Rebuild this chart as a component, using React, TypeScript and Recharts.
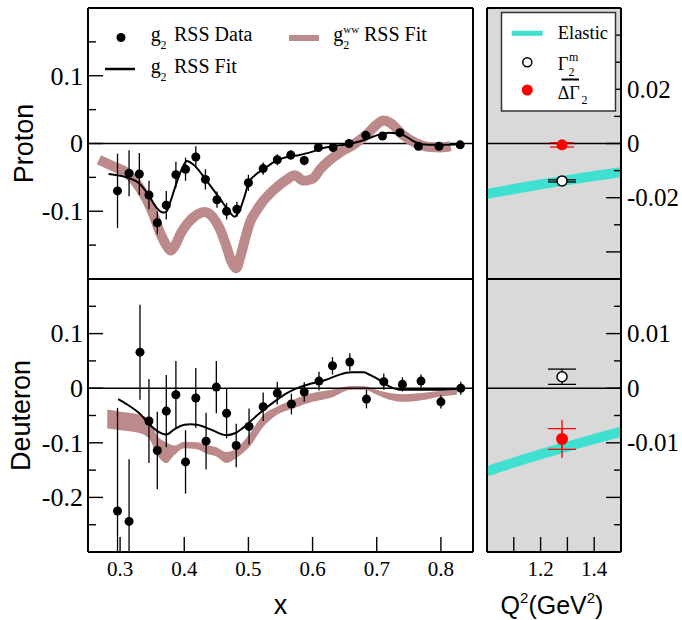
import React from 'react';
import {
  ComposedChart,
  XAxis,
  YAxis,
  Line,
  Area,
  Scatter,
  ErrorBar,
  ReferenceLine,
  Legend,
  CartesianGrid,
} from 'recharts';

const SERIF = '"Liberation Serif", "Times New Roman", Times, serif';
const SANS = '"Liberation Sans", Arial, Helvetica, sans-serif';
const BROWN = '#bc8a8a';
const TURQ = '#40e0d0';
const GRAY = '#d9d9d9';

const W = 682;
const H = 620;

// ---------- Proton g2 (left top) ----------
const protonX = [0.296, 0.314, 0.33, 0.345, 0.358, 0.372, 0.387, 0.402, 0.418, 0.433, 0.451, 0.466, 0.482, 0.5, 0.523, 0.545, 0.566, 0.587, 0.609, 0.632, 0.657, 0.683, 0.709, 0.736, 0.765, 0.797, 0.83];
const protonG2 = [-0.07, -0.044, -0.045, -0.076, -0.117, -0.091, -0.046, -0.038, -0.02, -0.053, -0.083, -0.1, -0.097, -0.058, -0.037, -0.024, -0.017, -0.025, -0.006, -0.006, 0.0, 0.012, 0.011, 0.016, -0.004, -0.004, -0.002];
const protonErr = [0.055, 0.034, 0.031, 0.021, 0.017, 0.021, 0.019, 0.017, 0.016, 0.015, 0.012, 0.012, 0.011, 0.012, 0.009, 0.008, 0.007, 0.007, 0.006, 0.006, 0.005, 0.005, 0.005, 0.005, 0.004, 0.004, 0.004];

const protonFitX = [0.282, 0.31, 0.331, 0.347, 0.357, 0.367, 0.372, 0.378, 0.388, 0.397, 0.404, 0.414, 0.435, 0.456, 0.47, 0.478, 0.487, 0.494, 0.5, 0.51, 0.525, 0.54, 0.56, 0.58, 0.6, 0.62, 0.64, 0.66, 0.68, 0.7, 0.72, 0.74, 0.76, 0.78, 0.8, 0.83];
const protonFitY = [-0.045, -0.05, -0.06, -0.08, -0.095, -0.102, -0.101, -0.087, -0.058, -0.036, -0.026, -0.031, -0.055, -0.082, -0.1, -0.108, -0.097, -0.078, -0.059, -0.047, -0.037, -0.027, -0.02, -0.017, -0.012, -0.006, -0.003, 0.0, 0.005, 0.012, 0.016, 0.013, 0.002, -0.002, -0.002, -0.001];

const protonWwX = [0.267, 0.29, 0.31, 0.325, 0.341, 0.352, 0.362, 0.372, 0.379, 0.386, 0.395, 0.405, 0.42, 0.432, 0.444, 0.455, 0.465, 0.474, 0.481, 0.488, 0.495, 0.503, 0.512, 0.522, 0.54, 0.56, 0.572, 0.586, 0.6, 0.612, 0.625, 0.645, 0.665, 0.685, 0.7, 0.71, 0.722, 0.74, 0.76, 0.78, 0.8, 0.815];
const protonWwY = [-0.024, -0.034, -0.043, -0.058, -0.082, -0.105, -0.131, -0.15, -0.158, -0.15, -0.132, -0.118, -0.105, -0.101, -0.108, -0.125, -0.15, -0.175, -0.184, -0.165, -0.14, -0.115, -0.1, -0.086, -0.068, -0.053, -0.047, -0.055, -0.052, -0.038, -0.026, -0.012, -0.001, 0.014, 0.028, 0.034, 0.03, 0.013, 0.001, -0.005, -0.006, -0.004];

// ---------- Deuteron g2 (left bottom) ----------
const deutX = [0.296, 0.314, 0.331, 0.345, 0.358, 0.372, 0.387, 0.402, 0.418, 0.434, 0.45, 0.466, 0.481, 0.501, 0.523, 0.545, 0.567, 0.587, 0.61, 0.631, 0.658, 0.684, 0.711, 0.74, 0.769, 0.8, 0.831];
const deutG2 = [-0.225, -0.244, 0.066, -0.06, -0.114, -0.042, -0.012, -0.135, -0.018, -0.097, 0.002, -0.046, -0.105, -0.07, -0.034, -0.009, -0.029, -0.007, 0.013, 0.041, 0.048, -0.02, 0.012, 0.007, 0.013, -0.025, 0.0];
// visible error extents (below / above); the two lowest points' bars run out of the frame at -0.3
const deutErrLow = [0.075, 0.056, 0.087, 0.077, 0.071, 0.066, 0.062, 0.058, 0.055, 0.052, 0.048, 0.046, 0.04, 0.033, 0.026, 0.021, 0.019, 0.018, 0.017, 0.016, 0.016, 0.017, 0.015, 0.013, 0.012, 0.012, 0.012];
const deutErrHigh = [0.189, 0.114, 0.087, 0.077, 0.071, 0.066, 0.062, 0.058, 0.055, 0.052, 0.048, 0.046, 0.04, 0.033, 0.026, 0.021, 0.019, 0.018, 0.017, 0.016, 0.016, 0.017, 0.015, 0.013, 0.012, 0.012, 0.012];

const deutFitX = [0.297, 0.31, 0.33, 0.35, 0.36, 0.372, 0.385, 0.4, 0.41, 0.42, 0.44, 0.465, 0.48, 0.49, 0.5, 0.52, 0.54, 0.56, 0.58, 0.6, 0.62, 0.64, 0.66, 0.68, 0.69, 0.7, 0.72, 0.74, 0.78, 0.83];
const deutFitY = [-0.02, -0.029, -0.046, -0.071, -0.08, -0.085, -0.075, -0.067, -0.066, -0.067, -0.075, -0.086, -0.082, -0.074, -0.064, -0.043, -0.025, -0.009, 0.002, 0.009, 0.015, 0.024, 0.029, 0.029, 0.024, 0.018, 0.003, -0.003, -0.003, -0.002];

const deutWwX = [0.28, 0.3, 0.33, 0.345, 0.359, 0.372, 0.385, 0.4, 0.42, 0.435, 0.45, 0.466, 0.482, 0.502, 0.523, 0.544, 0.57, 0.6, 0.63, 0.66, 0.68, 0.7, 0.72, 0.74, 0.77, 0.8, 0.825];
const deutWwHi = [-0.039, -0.043, -0.048, -0.058, -0.089, -0.099, -0.105, -0.098, -0.099, -0.104, -0.108, -0.117, -0.11, -0.083, -0.049, -0.034, -0.021, -0.009, -0.003, 0.004, 0.004, -0.003, -0.009, -0.011, -0.009, -0.005, -0.005];
const deutWwLo = [-0.074, -0.077, -0.082, -0.092, -0.124, -0.137, -0.122, -0.11, -0.112, -0.12, -0.125, -0.137, -0.127, -0.107, -0.071, -0.049, -0.037, -0.025, -0.017, -0.003, -0.003, -0.012, -0.021, -0.025, -0.022, -0.015, -0.012];

// ---------- Integrals vs Q2 (right panels) ----------
const elasticQ2 = [1.0, 1.1, 1.2, 1.3, 1.4, 1.5];
const protonElastic = [-0.0186, -0.0168, -0.0151, -0.0135, -0.012, -0.0106];
const deutElastic = [-0.0152, -0.0136, -0.0121, -0.0107, -0.0093, -0.008];

const measQ2 = [1.28];
const protonGamma2m = [-0.0138];
const protonGamma2mErr = [0.0004];
const protonDeltaGamma2 = [-0.0005];
const protonDeltaGamma2Err = [0.0008];
const deutGamma2m = [0.0021];
const deutGamma2mErr = [0.0014];
const deutDeltaGamma2 = [-0.0093];
const deutDeltaGamma2StatErr = [0.0019];
const deutDeltaGamma2TotErr = [0.0035];

// ---------- ticks ----------
const xTicks = [0.3, 0.4, 0.5, 0.6, 0.7, 0.8];
const q2Ticks = [1.1, 1.2, 1.3, 1.4];
const q2Labels = [1.2, 1.4];
const protonYTicks = [0.15, 0.1, 0.05, 0, -0.05, -0.1, -0.15];
const protonYMajor = [0.1, 0, -0.1];
const deutYTicks = [0.15, 0.1, 0.05, 0, -0.05, -0.1, -0.15, -0.2, -0.25];
const deutYMajor = [0.1, 0, -0.1, -0.2];
const protonIntTicks = [0.04, 0.03, 0.02, 0.01, 0, -0.01, -0.02, -0.03, -0.04];
const protonIntMajor = [0.04, 0.02, 0, -0.02, -0.04];
const protonIntLabels = [0.02, 0, -0.02];
const deutIntTicks = [0.015, 0.01, 0.005, 0, -0.005, -0.01, -0.015, -0.02, -0.025];
const deutIntMajor = [0.01, 0, -0.01, -0.02];
const deutIntLabels = [0.01, 0, -0.01];

// ---------- tables ----------
const pts = (xs: number[], ys: number[]) => xs.map((x, i) => ({ x, y: ys[i] }));
const protonData = protonX.map((x, i) => ({ x, y: protonG2[i], e: protonErr[i] }));
const protonFit = pts(protonFitX, protonFitY);
const protonWw = pts(protonWwX, protonWwY);
const deutData = deutX.map((x, i) => ({ x, y: deutG2[i], e: [deutErrLow[i], deutErrHigh[i]] }));
const deutFit = pts(deutFitX, deutFitY);
const deutWw = deutWwX.map((x, i) => ({ x, band: [deutWwLo[i], deutWwHi[i]] }));
const protonEl = pts(elasticQ2, protonElastic);
const deutEl = pts(elasticQ2, deutElastic);
const pG2m = measQ2.map((x, i) => ({ x, y: protonGamma2m[i], e: protonGamma2mErr[i] }));
const pDG2 = measQ2.map((x, i) => ({ x, y: protonDeltaGamma2[i], e: protonDeltaGamma2Err[i] }));
const dG2m = measQ2.map((x, i) => ({ x, y: deutGamma2m[i], e: deutGamma2mErr[i] }));
const dDG2 = measQ2.map((x, i) => ({
  x,
  y: deutDeltaGamma2[i],
  eIn: deutDeltaGamma2StatErr[i],
  eOut: deutDeltaGamma2TotErr[i],
}));

// ---------- helpers ----------
const near = (a: number, b: number) => Math.abs(a - b) < 1e-9;
const has = (arr: number[], v: number) => arr.some((a) => near(a, v));
const AXL = { stroke: '#000', strokeWidth: 2 };
const serifStyle: React.CSSProperties = { fontFamily: SERIF };

function makeLeftTick(major: number[], labels: number[]) {
  return (p: any) => {
    const v = p.payload.value;
    const len = has(major, v) ? 15 : 8;
    return (
      <g>
        <line x1={p.x} x2={p.x + len} y1={p.y} y2={p.y} stroke="#000" strokeWidth={1.4} />
        {has(labels, v) && (
          <text x={p.x - 5} y={p.y} dy="0.34em" textAnchor="end" style={serifStyle} fontFamily={SERIF} fontSize={26} fill="#000">
            {String(v)}
          </text>
        )}
      </g>
    );
  };
}

function makeRightTick(major: number[], labels: number[]) {
  return (p: any) => {
    const v = p.payload.value;
    const len = has(major, v) ? 15 : 7;
    return (
      <g>
        <line x1={p.x - len} x2={p.x} y1={p.y} y2={p.y} stroke="#000" strokeWidth={1.4} />
        {has(labels, v) && (
          <text x={p.x + 6} y={p.y} dy="0.34em" textAnchor="start" style={serifStyle} fontFamily={SERIF} fontSize={25} fill="#000">
            {String(v)}
          </text>
        )}
      </g>
    );
  };
}

function makeBottomTick(labels: number[]) {
  return (p: any) => {
    const v = p.payload.value;
    return (
      <g>
        <line x1={p.x} x2={p.x} y1={p.y} y2={p.y - 15} stroke="#000" strokeWidth={1.4} />
        {has(labels, v) && (
          <text x={p.x} y={p.y + 23.5} textAnchor="middle" style={serifStyle} fontFamily={SERIF} fontSize={21} fill="#000">
            {String(v)}
          </text>
        )}
      </g>
    );
  };
}

const rotLabel = (text: string, bx: number) => (p: any) => {
  const vb = p.viewBox || {};
  const cy = (vb.y ?? 0) + (vb.height ?? 0) / 2;
  return (
    <text
      x={bx}
      y={cy}
      transform={`rotate(-90 ${bx} ${cy})`}
      textAnchor="middle"
      fontFamily={SANS}
      fontSize={27}
      fill="#000"
    >
      {text}
    </text>
  );
};

const xTitle = (p: any) => {
  const vb = p.viewBox || {};
  const cx = (vb.x ?? 0) + (vb.width ?? 0) / 2;
  return (
    <text x={cx} y={614} textAnchor="middle" fontFamily={SANS} fontSize={27} fill="#000">
      x
    </text>
  );
};

const q2Title = (p: any) => {
  const vb = p.viewBox || {};
  const cx = (vb.x ?? 0) + (vb.width ?? 0) / 2 - 2;
  return (
    <text x={cx} y={614} textAnchor="middle" fontFamily={SANS} fontSize={25} fill="#000">
      Q<tspan fontSize={15} dy={-11}>2</tspan>
      <tspan dy={11}>(GeV</tspan>
      <tspan fontSize={15} dy={-11}>2</tspan>
      <tspan dy={11}>)</tspan>
    </text>
  );
};

const ProtonLegend = () => (
  <svg width={W} height={120} style={{ position: 'absolute', left: 0, top: 0, overflow: 'visible' }}>
    <g fontFamily={SERIF} fill="#000">
      <circle cx={121} cy={37.5} r={4.5} fill="#000" />
      <text x={150.7} y={40.5} fontSize={20}>g</text>
      <text x={160.5} y={48.5} fontSize={12}>2</text>
      <text x={174} y={40.5} fontSize={20}>RSS Data</text>
      <line x1={105} x2={135} y1={69} y2={69} stroke="#000" strokeWidth={2.5} />
      <text x={150.7} y={73} fontSize={20}>g</text>
      <text x={160.5} y={81} fontSize={12}>2</text>
      <text x={174} y={73} fontSize={20}>RSS Fit</text>
      <line x1={289} x2={319} y1={38} y2={38} stroke={BROWN} strokeWidth={6} />
      <text x={333.3} y={41} fontSize={20}>g</text>
      <text x={343.3} y={33.3} fontSize={11}>ww</text>
      <text x={343.3} y={48.5} fontSize={12}>2</text>
      <text x={364} y={41} fontSize={20}>RSS Fit</text>
    </g>
  </svg>
);

const IntLegend = () => (
  <svg width={W} height={120} style={{ position: 'absolute', left: 0, top: 0, overflow: 'visible' }}>
    <rect x={501.5} y={12.5} width={114} height={98.5} fill="#fff" stroke="#333" strokeWidth={1.5} />
    <g fontFamily={SERIF} fill="#000">
      <line x1={511.7} x2={542.7} y1={33.3} y2={33.3} stroke={TURQ} strokeWidth={5} />
      <text x={557.7} y={39.3} fontSize={18.5}>Elastic</text>
      <circle cx={527.3} cy={62.3} r={4.5} fill="#fff" stroke="#000" strokeWidth={1.5} />
      <text x={557.7} y={70} fontSize={18.5}>Γ</text>
      <text x={569} y={60.5} fontSize={12}>m</text>
      <text x={568.5} y={76} fontSize={12}>2</text>
      <circle cx={527.3} cy={90} r={5.5} fill="#ff0000" />
      <text x={557.7} y={99} fontSize={18}>ΔΓ</text>
      <line x1={561.5} x2={579} y1={79.5} y2={79.5} stroke="#000" strokeWidth={2} />
      <text x={581.5} y={104} fontSize={12}>2</text>
    </g>
  </svg>
);

const legendWrap = { left: 0, top: 0, width: W, height: 0 };

const wrapStyle: React.CSSProperties = { position: 'absolute', left: 0, top: 0 };

// plot rectangles (layout): left panels x 88..473, right panels x 487..621, rows y 8..279 and 279..552
// axes are 1px thick in Recharts' layout, so margins are reduced by 1 on every side.
const mTopRow = { top: 7, bottom: 340 };
const mBotRow = { top: 278, bottom: 67 };
const mLeftCol = { left: 87, right: 208 };
const mRightCol = { left: 486, right: 60 };

export default function App() {
  return (
    <div style={{ position: 'absolute', left: 0, top: 0, width: W, height: H, background: '#fff' }}>
      {/* Proton g2 */}
      <div style={wrapStyle}>
        <ComposedChart width={W} height={H} margin={{ ...mTopRow, ...mLeftCol }}>
          <XAxis dataKey="x" type="number" domain={[0.25, 0.85]} allowDataOverflow height={1} axisLine={AXL} tick={false} tickLine={false} />
          <XAxis xAxisId="top" orientation="top" type="number" domain={[0.25, 0.85]} allowDataOverflow height={1} axisLine={AXL} tick={false} tickLine={false} />
          <YAxis
            dataKey="y"
            type="number"
            domain={[-0.2, 0.2]}
            allowDataOverflow
            width={1}
            axisLine={AXL}
            ticks={protonYTicks}
            interval={0}
            tickLine={false}
            tickSize={0}
            tickMargin={0}
            tick={makeLeftTick(protonYMajor, protonYMajor)}
            label={{ content: rotLabel('Proton', 33) }}
          />
          <YAxis yAxisId="right" orientation="right" type="number" domain={[-0.2, 0.2]} allowDataOverflow width={1} axisLine={AXL} tick={false} tickLine={false} />
          <ReferenceLine y={0} stroke="#000" strokeWidth={1.5} />
          <Line data={protonWw} dataKey="y" type="monotone" stroke={BROWN} strokeWidth={10} dot={false} activeDot={false} isAnimationActive={false} />
          <Line data={protonFit} dataKey="y" type="monotone" stroke="#000" strokeWidth={2} dot={false} activeDot={false} isAnimationActive={false} />
          <Scatter data={protonData} fill="#000" isAnimationActive={false}>
            <ErrorBar dataKey="e" direction="y" width={0} stroke="#000" strokeWidth={1.3} />
          </Scatter>
          <Legend layout="horizontal" verticalAlign="middle" align="center" wrapperStyle={legendWrap} content={() => <ProtonLegend />} />
        </ComposedChart>
      </div>

      {/* Deuteron g2 */}
      <div style={wrapStyle}>
        <ComposedChart width={W} height={H} margin={{ ...mBotRow, ...mLeftCol }}>
          <XAxis
            dataKey="x"
            type="number"
            domain={[0.25, 0.85]}
            allowDataOverflow
            height={1}
            axisLine={AXL}
            ticks={xTicks}
            interval={0}
            tickLine={false}
            tickSize={0}
            tickMargin={0}
            tick={makeBottomTick(xTicks)}
            label={{ content: xTitle }}
          />
          <XAxis xAxisId="top" orientation="top" type="number" domain={[0.25, 0.85]} allowDataOverflow height={1} axisLine={AXL} tick={false} tickLine={false} />
          <YAxis
            dataKey="y"
            type="number"
            domain={[-0.3, 0.2]}
            allowDataOverflow
            width={1}
            axisLine={AXL}
            ticks={deutYTicks}
            interval={0}
            tickLine={false}
            tickSize={0}
            tickMargin={0}
            tick={makeLeftTick(deutYMajor, deutYMajor)}
            label={{ content: rotLabel('Deuteron', 30) }}
          />
          <YAxis yAxisId="right" orientation="right" type="number" domain={[-0.3, 0.2]} allowDataOverflow width={1} axisLine={AXL} tick={false} tickLine={false} />
          <Area data={deutWw} dataKey="band" type="monotone" stroke="none" fill={BROWN} fillOpacity={1} dot={false} activeDot={false} isAnimationActive={false} />
          <ReferenceLine y={0} stroke="#000" strokeWidth={1.5} />
          <Line data={deutFit} dataKey="y" type="monotone" stroke="#000" strokeWidth={2} dot={false} activeDot={false} isAnimationActive={false} />
          <Scatter data={deutData} fill="#000" isAnimationActive={false}>
            <ErrorBar dataKey="e" direction="y" width={0} stroke="#000" strokeWidth={1.3} />
          </Scatter>
        </ComposedChart>
      </div>

      {/* Proton integral */}
      <div style={wrapStyle}>
        <ComposedChart width={W} height={H} margin={{ ...mTopRow, ...mRightCol }}>
          <CartesianGrid horizontal={false} vertical={false} fill={GRAY} fillOpacity={1} stroke="none" />
          <XAxis dataKey="x" type="number" domain={[1.0, 1.5]} allowDataOverflow height={1} axisLine={AXL} tick={false} tickLine={false} />
          <XAxis xAxisId="top" orientation="top" type="number" domain={[1.0, 1.5]} allowDataOverflow height={1} axisLine={AXL} tick={false} tickLine={false} />
          <YAxis dataKey="y" type="number" domain={[-0.05, 0.05]} allowDataOverflow width={1} axisLine={AXL} tick={false} tickLine={false} />
          <YAxis
            yAxisId="right"
            orientation="right"
            type="number"
            domain={[-0.05, 0.05]}
            allowDataOverflow
            width={1}
            axisLine={AXL}
            ticks={protonIntTicks}
            interval={0}
            tickLine={false}
            tickSize={0}
            tickMargin={0}
            tick={makeRightTick(protonIntMajor, protonIntLabels)}
          />
          <ReferenceLine y={0} stroke="#000" strokeWidth={1.5} />
          <Line data={protonEl} dataKey="y" type="monotone" stroke={TURQ} strokeWidth={10} dot={false} activeDot={false} isAnimationActive={false} />
          <Scatter
            data={pG2m}
            isAnimationActive={false}
            shape={(p: any) => <circle cx={p.cx} cy={p.cy} r={5} fill="#fff" stroke="#000" strokeWidth={1.5} />}
          >
            <ErrorBar dataKey="e" direction="y" width={14} stroke="#000" strokeWidth={1.3} />
          </Scatter>
          <Scatter
            data={pDG2}
            isAnimationActive={false}
            shape={(p: any) => <circle cx={p.cx} cy={p.cy} r={5.5} fill="#ff0000" />}
          >
            <ErrorBar dataKey="e" direction="y" width={12} stroke="#ff0000" strokeWidth={1.3} />
          </Scatter>
          <Legend layout="horizontal" verticalAlign="middle" align="center" wrapperStyle={legendWrap} content={() => <IntLegend />} />
        </ComposedChart>
      </div>

      {/* Deuteron integral */}
      <div style={wrapStyle}>
        <ComposedChart width={W} height={H} margin={{ ...mBotRow, ...mRightCol }}>
          <CartesianGrid horizontal={false} vertical={false} fill={GRAY} fillOpacity={1} stroke="none" />
          <XAxis
            dataKey="x"
            type="number"
            domain={[1.0, 1.5]}
            allowDataOverflow
            height={1}
            axisLine={AXL}
            ticks={q2Ticks}
            interval={0}
            tickLine={false}
            tickSize={0}
            tickMargin={0}
            tick={makeBottomTick(q2Labels)}
            label={{ content: q2Title }}
          />
          <XAxis xAxisId="top" orientation="top" type="number" domain={[1.0, 1.5]} allowDataOverflow height={1} axisLine={AXL} tick={false} tickLine={false} />
          <YAxis dataKey="y" type="number" domain={[-0.03, 0.02]} allowDataOverflow width={1} axisLine={AXL} tick={false} tickLine={false} />
          <YAxis
            yAxisId="right"
            orientation="right"
            type="number"
            domain={[-0.03, 0.02]}
            allowDataOverflow
            width={1}
            axisLine={AXL}
            ticks={deutIntTicks}
            interval={0}
            tickLine={false}
            tickSize={0}
            tickMargin={0}
            tick={makeRightTick(deutIntMajor, deutIntLabels)}
          />
          <ReferenceLine y={0} stroke="#000" strokeWidth={1.5} />
          <Line data={deutEl} dataKey="y" type="monotone" stroke={TURQ} strokeWidth={10} dot={false} activeDot={false} isAnimationActive={false} />
          <Scatter
            data={dG2m}
            isAnimationActive={false}
            shape={(p: any) => <circle cx={p.cx} cy={p.cy} r={5} fill="#fff" stroke="#000" strokeWidth={1.5} />}
          >
            <ErrorBar dataKey="e" direction="y" width={14} stroke="#000" strokeWidth={1.3} />
          </Scatter>
          <Scatter
            data={dDG2}
            isAnimationActive={false}
            shape={(p: any) => <circle cx={p.cx} cy={p.cy} r={6} fill="#ff0000" />}
          >
            <ErrorBar dataKey="eOut" direction="y" width={0} stroke="#ff0000" strokeWidth={1.3} />
            <ErrorBar dataKey="eIn" direction="y" width={14} stroke="#ff0000" strokeWidth={1.3} />
          </Scatter>
        </ComposedChart>
      </div>
    </div>
  );
}
